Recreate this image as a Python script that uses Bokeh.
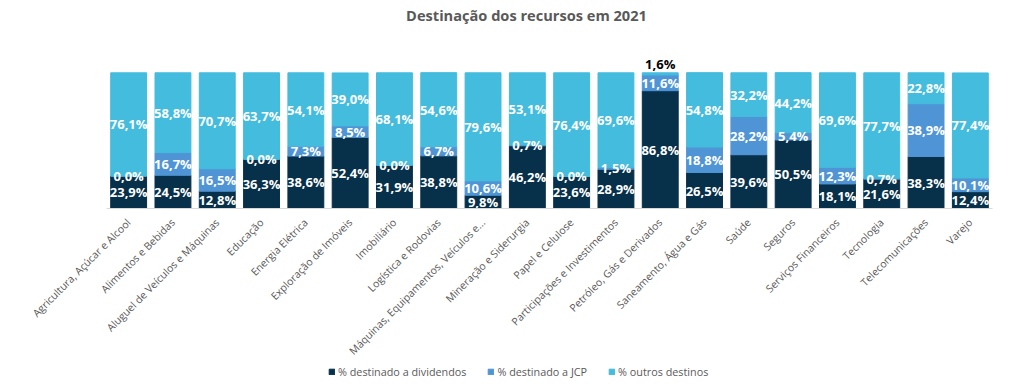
import math
from bokeh.plotting import figure
from bokeh.layouts import column
from bokeh.models import ColumnDataSource, Range1d, FixedTicker, Legend, LegendItem, Label
from bokeh.core.properties import value
from bokeh.embed import file_html
from bokeh.resources import INLINE

title_text = "Destinação dos recursos em 2021"

categories = [
    "Agricultura, Açúcar e Alcool", "Alimentos e Bebidas", "Aluguel de Veículos e Máquinas",
    "Educação", "Energia Elétrica", "Exploração de Imóveis", "Imobiliário",
    "Logística e Rodovias", "Máquinas, Equipamentos, Veículos e...", "Mineração e Siderurgia",
    "Papel e Celulose", "Participações e Investimentos", "Petróleo, Gás e Derivados",
    "Saneamento, Água e Gás", "Saúde", "Seguros", "Serviços Financeiros", "Tecnologia",
    "Telecomunicações", "Varejo",
]
dividendos = [23.9, 24.5, 12.8, 36.3, 38.6, 52.4, 31.9, 38.8, 9.8, 46.2,
              23.6, 28.9, 86.8, 26.5, 39.6, 50.5, 18.1, 21.6, 38.3, 12.4]
jcp = [0.0, 16.7, 16.5, 0.0, 7.3, 8.5, 0.0, 6.7, 10.6, 0.7,
       0.0, 1.5, 11.6, 18.8, 28.2, 5.4, 12.3, 0.7, 38.9, 10.1]
outros = [76.1, 58.8, 70.7, 63.7, 54.1, 39.0, 68.1, 54.6, 79.6, 53.1,
          76.4, 69.6, 1.6, 54.8, 32.2, 44.2, 69.6, 77.7, 22.8, 77.4]
series_names = ["% destinado a dividendos", "% destinado a JCP", "% outros destinos"]

colors = ["#07304A", "#4F95D5", "#43BCDD"]
FONT = "Open Sans"

W = 1010
H_LEG = 24
H = 389 - H_LEG
FRAME_L, FRAME_R, FRAME_B = 106, 992, 210

x = list(range(len(categories)))
src = ColumnDataSource(dict(x=x, div=dividendos, jcp=jcp, out=outros))
stackers = ["div", "jcp", "out"]

p = figure(width=W, height=H, output_backend="svg", toolbar_location=None,
           x_range=Range1d(-0.5, len(categories) - 0.5), y_range=Range1d(0, FRAME_B / 1.37),
           min_border_left=FRAME_L, min_border_right=W - FRAME_R, min_border_top=0,
           min_border_bottom=H - FRAME_B)

renderers = p.vbar_stack(stackers, x="x", width=0.81, source=src,
                         fill_color=colors, line_color=colors)

# data labels
in_x, in_y, in_t = [], [], []
out_x, out_y, out_t = [], [], []
series = [dividendos, jcp, outros]
for i in x:
    bottom = 0.0
    for k, vals in enumerate(series):
        v = vals[i]
        txt = f"{v:.1f}".replace(".", ",") + "%"
        if k == len(series) - 1 and v < 3:
            out_x.append(i); out_y.append(bottom + v); out_t.append(txt)
        else:
            in_x.append(i); in_y.append(bottom + v / 2); in_t.append(txt)
        bottom += v

p.text(x=in_x, y=in_y, text=in_t, text_align="center", text_baseline="middle",
       text_color="white", text_font=value(FONT), text_font_style="bold", text_font_size="13px")
p.text(x=out_x, y=out_y, text=out_t, text_align="center", text_baseline="bottom",
       text_color="#000000", text_font=value(FONT), text_font_style="bold", text_font_size="13px")

# title
p.add_layout(Label(x=526 - FRAME_L, y=FRAME_B - 16, x_units="screen", y_units="screen",
                   text=title_text, text_align="center", text_baseline="middle", text_font=FONT,
                   text_font_style="bold", text_font_size="14.6px", text_color="#595959"))

# axes
p.xaxis.ticker = FixedTicker(ticks=x)
p.xaxis.major_label_overrides = {i: c for i, c in enumerate(categories)}
p.xaxis.major_label_orientation = math.pi / 4
p.xaxis.major_tick_line_color = None
p.xaxis.minor_tick_line_color = None
p.xaxis.axis_line_color = "#d9d9d9"
p.xaxis.major_label_text_font = FONT
p.xaxis.major_label_text_font_size = "10.5px"
p.xaxis.major_label_text_color = "#595959"
p.xaxis.major_label_standoff = 6
p.yaxis.visible = False
p.grid.visible = False
p.outline_line_color = None

# legend in a separate strip below the chart (hidden copies of the series give the swatches)
pl = figure(width=W, height=H_LEG, output_backend="svg", toolbar_location=None,
            x_range=Range1d(-0.5, len(categories) - 0.5), y_range=Range1d(0, 1),
            min_border_left=FRAME_L, min_border_right=W - FRAME_R, min_border_top=0,
            min_border_bottom=0)
pl.axis.visible = False
pl.grid.visible = False
pl.outline_line_color = None
leg_r = pl.vbar_stack(stackers, x="x", width=0.81, source=src,
                      fill_color=colors, line_color=colors)
for r in leg_r:
    r.visible = False
legend = Legend(items=[LegendItem(label=n, renderers=[r]) for n, r in zip(series_names, leg_r)],
                orientation="horizontal", location=(328 - FRAME_L, 10), glyph_width=7, glyph_height=7,
                label_standoff=3, spacing=21, padding=0, margin=0, border_line_color=None,
                background_fill_alpha=0, label_text_font=FONT, label_text_font_size="10.8px",
                label_text_color="#595959", label_height=12, inactive_fill_alpha=0)
pl.add_layout(legend)

layout = column(p, pl, spacing=0)
open("out.html", "w").write(file_html(layout, INLINE))
